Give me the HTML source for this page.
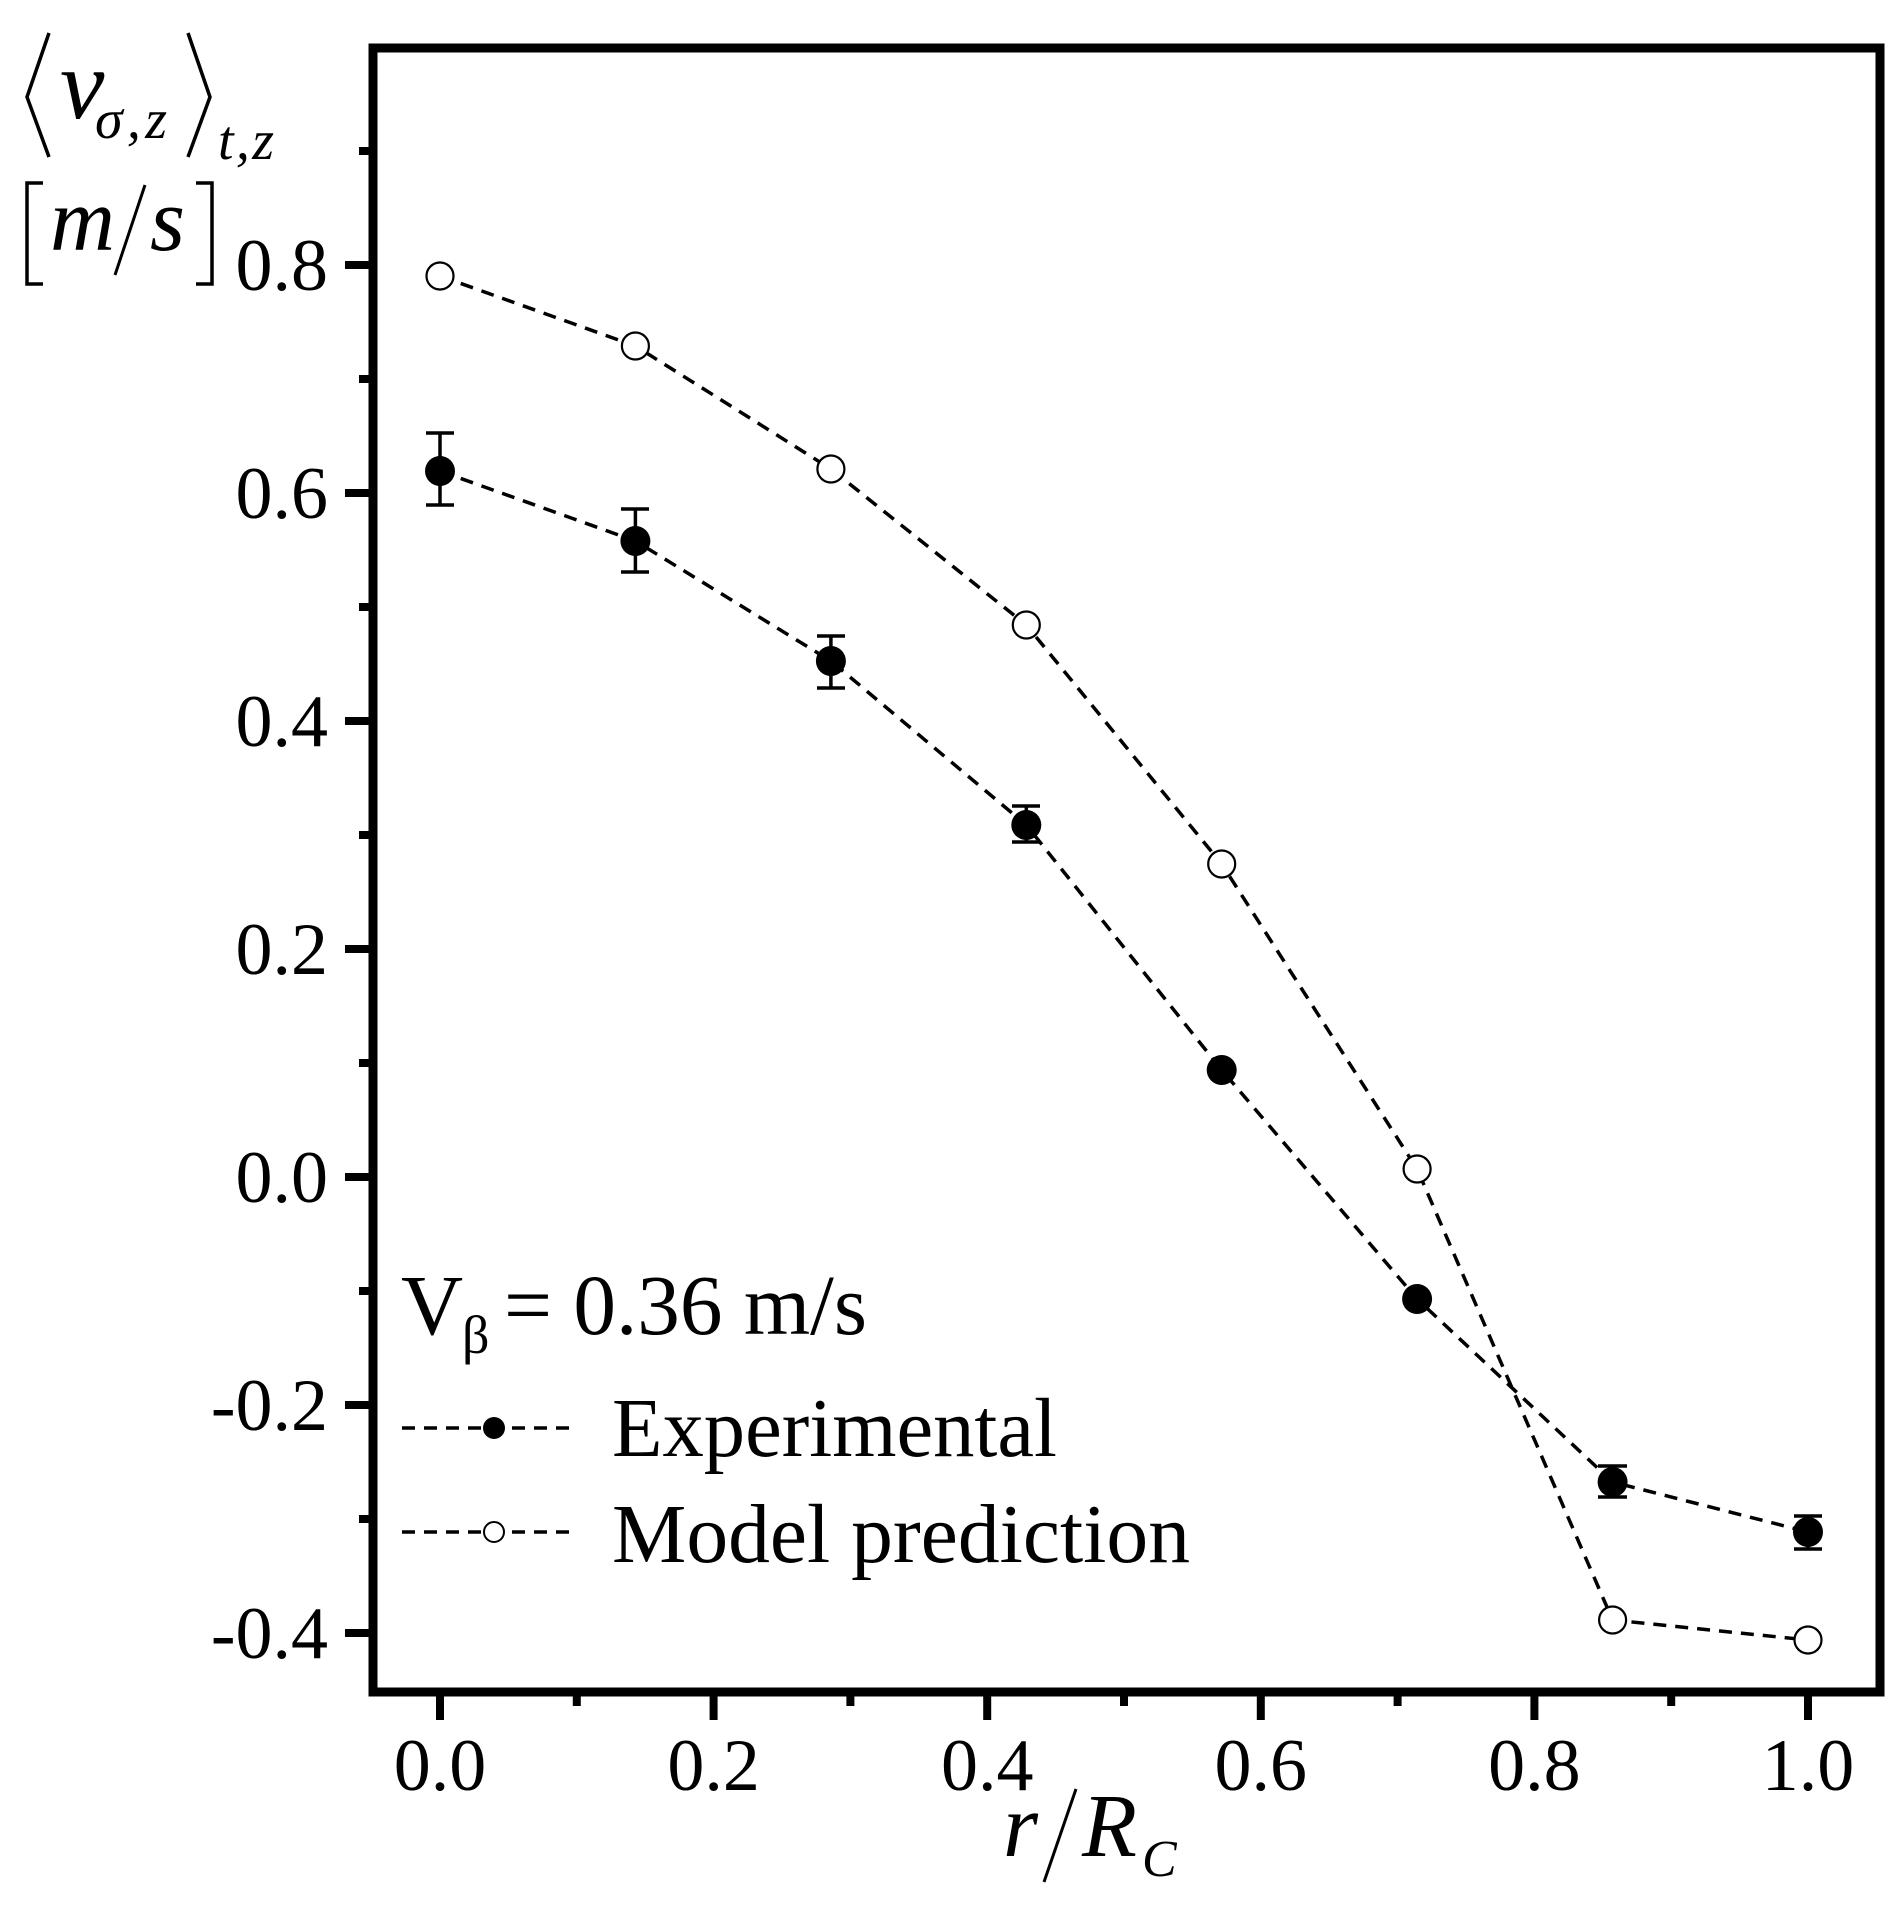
<!DOCTYPE html>
<html><head><meta charset="utf-8"><style>
html,body{margin:0;padding:0;background:#fff;}
svg{display:block;}
text{font-family:"Liberation Serif",serif;fill:#000;}
</style></head><body>
<svg width="1899" height="1913" viewBox="0 0 1899 1913" xmlns="http://www.w3.org/2000/svg">
<!-- Y axis title -->
<g stroke="#000" stroke-width="3.5" fill="none" stroke-linejoin="miter">
<polyline points="49,33 27,97 49,157"/>
<polyline points="188,33 210,97 188,157"/>
<polyline points="43,183 27,183 27,284 43,284"/>
<polyline points="196,183 212,183 212,284 196,284"/>
<line x1="145" y1="185" x2="115" y2="275" stroke-width="3"/>
</g>
<text x="60" y="118" font-size="100" font-style="italic">v</text>
<text x="95" y="138" font-size="56" font-style="italic" textLength="72" lengthAdjust="spacing">σ,z</text>
<text x="218" y="159" font-size="56" font-style="italic" textLength="56" lengthAdjust="spacing">t,z</text>
<text x="50" y="250" font-size="90" font-style="italic">m</text>
<text x="150" y="250" font-size="90" font-style="italic">s</text>

<!-- Frame -->
<rect x="373" y="48" width="1507" height="1644" fill="none" stroke="#000" stroke-width="9"/>

<!-- Y ticks -->
<g stroke="#000" stroke-width="8">
<line x1="345" y1="265" x2="373" y2="265"/>
<line x1="345" y1="493" x2="373" y2="493"/>
<line x1="345" y1="721" x2="373" y2="721"/>
<line x1="345" y1="949" x2="373" y2="949"/>
<line x1="345" y1="1177" x2="373" y2="1177"/>
<line x1="345" y1="1405" x2="373" y2="1405"/>
<line x1="345" y1="1633" x2="373" y2="1633"/>
<line x1="359" y1="151" x2="373" y2="151"/>
<line x1="359" y1="379" x2="373" y2="379"/>
<line x1="359" y1="607" x2="373" y2="607"/>
<line x1="359" y1="835" x2="373" y2="835"/>
<line x1="359" y1="1063" x2="373" y2="1063"/>
<line x1="359" y1="1291" x2="373" y2="1291"/>
<line x1="359" y1="1519" x2="373" y2="1519"/>
<!-- X ticks -->
<line x1="440" y1="1692" x2="440" y2="1720"/>
<line x1="713.6" y1="1692" x2="713.6" y2="1720"/>
<line x1="987.2" y1="1692" x2="987.2" y2="1720"/>
<line x1="1260.8" y1="1692" x2="1260.8" y2="1720"/>
<line x1="1534.4" y1="1692" x2="1534.4" y2="1720"/>
<line x1="1808" y1="1692" x2="1808" y2="1720"/>
<line x1="576.8" y1="1692" x2="576.8" y2="1706"/>
<line x1="850.4" y1="1692" x2="850.4" y2="1706"/>
<line x1="1124" y1="1692" x2="1124" y2="1706"/>
<line x1="1397.6" y1="1692" x2="1397.6" y2="1706"/>
<line x1="1671.2" y1="1692" x2="1671.2" y2="1706"/>
</g>

<!-- Y tick labels -->
<g font-size="74" text-anchor="end">
<text x="328" y="290">0.8</text>
<text x="328" y="518">0.6</text>
<text x="328" y="746">0.4</text>
<text x="328" y="974">0.2</text>
<text x="328" y="1202">0.0</text>
<text x="328" y="1430">-0.2</text>
<text x="328" y="1658">-0.4</text>
</g>
<!-- X tick labels -->
<g font-size="74" text-anchor="middle">
<text x="440" y="1790">0.0</text>
<text x="713.6" y="1790">0.2</text>
<text x="987.2" y="1790">0.4</text>
<text x="1260.8" y="1790">0.6</text>
<text x="1534.4" y="1790">0.8</text>
<text x="1808" y="1790">1.0</text>
</g>
<!-- X title -->
<text x="1003" y="1856" font-size="90" font-style="italic">r</text>
<line x1="1076" y1="1789" x2="1044" y2="1882" stroke="#000" stroke-width="3"/>
<text x="1082" y="1856" font-size="90" font-style="italic">R</text>
<text x="1142" y="1876" font-size="52" font-style="italic">C</text>

<!-- Series lines -->
<g fill="none" stroke="#000" stroke-width="3.5" stroke-dasharray="13 9">
<polyline points="440,276 635.4,346 830.9,469 1026.3,625 1221.7,864 1417.1,1169 1612.6,1620 1808,1640"/>
<polyline points="440,471 635.4,541 830.9,661 1026.3,825 1221.7,1070 1417.1,1299 1612.6,1482 1808,1532"/>
</g>
<!-- Error bars -->
<g stroke="#000" stroke-width="3.5">
<line x1="440" y1="433" x2="440" y2="505"/><line x1="426" y1="433" x2="454" y2="433"/><line x1="426" y1="505" x2="454" y2="505"/>
<line x1="635.4" y1="509" x2="635.4" y2="572"/><line x1="621" y1="509" x2="649" y2="509"/><line x1="621" y1="572" x2="649" y2="572"/>
<line x1="830.9" y1="636" x2="830.9" y2="688"/><line x1="817" y1="636" x2="845" y2="636"/><line x1="817" y1="688" x2="845" y2="688"/>
<line x1="1026.3" y1="806" x2="1026.3" y2="842"/><line x1="1012" y1="806" x2="1040" y2="806"/><line x1="1012" y1="842" x2="1040" y2="842"/>
<line x1="1612.6" y1="1466" x2="1612.6" y2="1497"/><line x1="1598" y1="1466" x2="1627" y2="1466"/><line x1="1598" y1="1497" x2="1627" y2="1497"/>
<line x1="1808" y1="1516" x2="1808" y2="1549"/><line x1="1794" y1="1516" x2="1822" y2="1516"/><line x1="1794" y1="1549" x2="1822" y2="1549"/>
</g>
<!-- Filled markers -->
<g fill="#000">
<circle cx="440" cy="471" r="15"/>
<circle cx="635.4" cy="541" r="15"/>
<circle cx="830.9" cy="661" r="15"/>
<circle cx="1026.3" cy="825" r="15"/>
<circle cx="1221.7" cy="1070" r="15"/>
<circle cx="1417.1" cy="1299" r="15"/>
<circle cx="1612.6" cy="1482" r="15"/>
<circle cx="1808" cy="1532" r="15"/>
</g>
<!-- Open markers -->
<g fill="#fff" stroke="#000" stroke-width="2.2">
<circle cx="440" cy="276" r="13.5"/>
<circle cx="635.4" cy="346" r="13.5"/>
<circle cx="830.9" cy="469" r="13.5"/>
<circle cx="1026.3" cy="625" r="13.5"/>
<circle cx="1221.7" cy="864" r="13.5"/>
<circle cx="1417.1" cy="1169" r="13.5"/>
<circle cx="1612.6" cy="1620" r="13.5"/>
<circle cx="1808" cy="1640" r="13.5"/>
</g>

<!-- Legend -->
<text x="401" y="1334" font-size="86">V</text>
<text x="462" y="1353" font-size="54">β</text>
<text x="504" y="1334" font-size="86" textLength="363" lengthAdjust="spacingAndGlyphs">= 0.36 m/s</text>
<g stroke="#000" stroke-width="3.5" stroke-dasharray="13 9" fill="none">
<line x1="402" y1="1428" x2="575" y2="1428"/>
<line x1="402" y1="1532" x2="575" y2="1532"/>
</g>
<circle cx="494" cy="1428" r="11" fill="#000"/>
<circle cx="494" cy="1532" r="10" fill="#fff" stroke="#000" stroke-width="2"/>
<text x="612" y="1456" font-size="84" textLength="445" lengthAdjust="spacingAndGlyphs">Experimental</text>
<text x="612" y="1562" font-size="84" textLength="578" lengthAdjust="spacingAndGlyphs">Model prediction</text>
</svg>
</body></html>
